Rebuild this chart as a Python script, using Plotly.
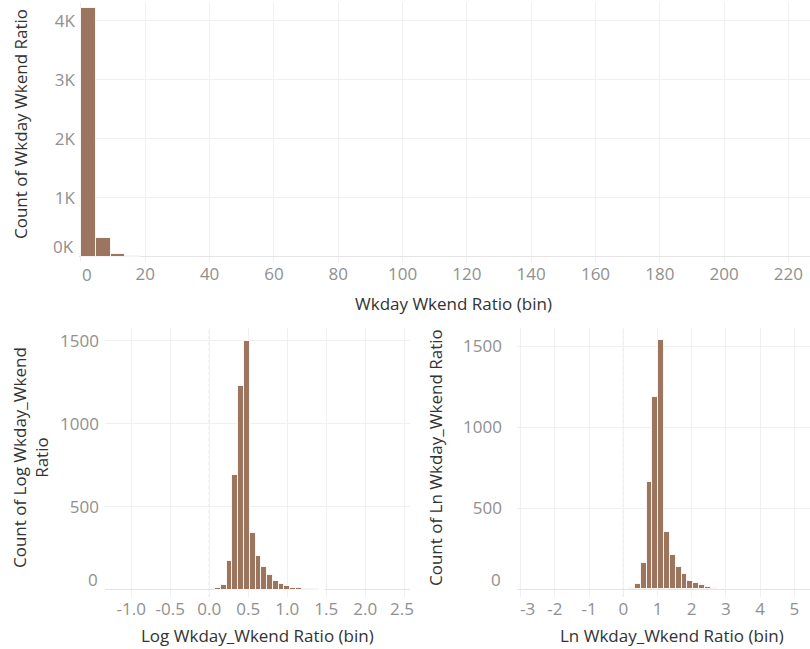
import plotly.graph_objects as go

# ---------------- data ----------------
# Top: Wkday Wkend Ratio histogram (bin size ~4.59)
ratio_bin_size = 4.59
ratio_bin_index = [0, 1, 2, 3]
ratio_counts = [4210, 320, 45, 7]

# Bottom-left: Log Wkday_Wkend Ratio (bin size ~0.0741)
log_bin_size = 0.0741
log_bin_index = list(range(1, 20))
log_counts = [8, 28, 175, 689, 1226, 1500, 342, 205, 139, 89, 52, 32, 24, 12, 8, 4, 3, 2, 1]

# Bottom-right: Ln Wkday_Wkend Ratio (bin size ~0.1706)
ln_bin_size = 0.1706
ln_bin_index = list(range(1, 20))
ln_counts = [8, 31, 165, 665, 1190, 1541, 353, 213, 140, 97, 52, 41, 25, 17, 10, 5, 3, 2, 1]

# tick labels (edge labels are drawn separately, nudged inward like the reference)
top_x_ticks = [0, 20, 40, 60, 80, 100, 120, 140, 160, 180, 200, 220]
top_x_labels = ["", "20", "40", "60", "80", "100", "120", "140", "160", "180", "200", "220"]
top_y_ticks = [0, 1000, 2000, 3000, 4000]
top_y_labels = ["", "1K", "2K", "3K", "4K"]
log_x_ticks = [-1.0, -0.5, 0.0, 0.5, 1.0, 1.5, 2.0, 2.5]
log_x_labels = ["-1.0", "-0.5", "0.0", "0.5", "1.0", "1.5", "2.0", ""]
ln_x_ticks = [-3, -2, -1, 0, 1, 2, 3, 4, 5]
ln_x_labels = ["", "-2", "-1", "0", "1", "2", "3", "4", "5"]
bottom_y_ticks = [0, 500, 1000, 1500]
bottom_y_labels = ["", "500", "1000", "1500"]
# (axis, value, text) for the nudged edge labels
edge_y_labels = [("y", 0, "0K"), ("y2", 0, "0"), ("y3", 0, "0")]
edge_x_labels = [("x", 0, "0"), ("x2", 2.5, "2.5"), ("x3", -3, "-3")]

# ---------------- style ----------------
BAR = "#9c755f"
GRID = "#f0f0f0"
TICK = "#909090"
TITLE = "#333333"
FONT = "Open Sans"
W, H = 810, 649


def centers(idx, size):
    return [(i + 0.5) * size for i in idx]


def px_x(p):
    return p / W


def px_y(p):
    return 1 - p / H


bar_line = dict(color="rgba(255,255,255,0.85)", width=1)

fig = go.Figure()
fig.add_trace(go.Bar(x=centers(ratio_bin_index, ratio_bin_size), y=ratio_counts,
                     width=ratio_bin_size, marker=dict(color=BAR, line=bar_line),
                     xaxis="x", yaxis="y", showlegend=False))
fig.add_trace(go.Bar(x=centers(log_bin_index, log_bin_size), y=log_counts,
                     width=log_bin_size, marker=dict(color=BAR, line=bar_line),
                     xaxis="x2", yaxis="y2", showlegend=False))
fig.add_trace(go.Bar(x=centers(ln_bin_index, ln_bin_size), y=ln_counts,
                     width=ln_bin_size, marker=dict(color=BAR, line=bar_line),
                     xaxis="x3", yaxis="y3", showlegend=False))

tickfont = dict(family=FONT, size=17, color=TICK)
common = dict(showgrid=True, gridcolor=GRID, gridwidth=1, showline=False,
              ticks="", tickfont=tickfont, fixedrange=True)

y_standoff = {"y": 3, "y2": 5, "y3": 14}

fig.update_layout(
    width=W, height=H,
    margin=dict(l=0, r=0, t=0, b=0),
    paper_bgcolor="white", plot_bgcolor="white",
    font=dict(family=FONT, color=TITLE),
    bargap=0,
    xaxis=dict(domain=[px_x(79), 1], anchor="y", range=[-0.62, 226.7],
               tickvals=top_x_ticks, ticktext=top_x_labels, zeroline=False, **common),
    yaxis=dict(domain=[px_y(262), px_y(2)], anchor="x", range=[-90, 4317],
               tickvals=top_y_ticks, ticktext=top_y_labels,
               zeroline=True, zerolinecolor="#e4e4e4", zerolinewidth=1,
               ticklabelstandoff=y_standoff["y"], **common),
    xaxis2=dict(domain=[px_x(105), px_x(410)], anchor="y2", range=[-1.337, 2.573],
                tickvals=log_x_ticks, ticktext=log_x_labels, zeroline=False, **common),
    yaxis2=dict(domain=[px_y(597), px_y(328)], anchor="x2", range=[-44, 1576],
                tickvals=bottom_y_ticks, ticktext=bottom_y_labels, zeroline=True,
                zerolinecolor="#e4e4e4", zerolinewidth=1,
                ticklabelstandoff=y_standoff["y2"], **common),
    xaxis3=dict(domain=[px_x(517), 1], anchor="y3", range=[-3.108, 5.459],
                tickvals=ln_x_ticks, ticktext=ln_x_labels, zeroline=False, **common),
    yaxis3=dict(domain=[px_y(597), px_y(328)], anchor="x3", range=[-47.5, 1613],
                tickvals=bottom_y_ticks, ticktext=bottom_y_labels, zeroline=True,
                zerolinecolor="#e4e4e4", zerolinewidth=1,
                ticklabelstandoff=y_standoff["y3"], **common),
)

# dotted zero reference lines in the bottom charts
for xr, yr in (("x2", "y2"), ("x3", "y3")):
    fig.add_shape(type="line", xref=xr, yref=yr + " domain", x0=0, x1=0, y0=0, y1=1,
                  line=dict(color="#c8c8c8", width=1, dash="dot"), layer="below")

# zero y-labels sit slightly above the baseline (as in the reference)
pair = {"y": "x", "y2": "x2", "y3": "x3"}
for ya, val, txt in edge_y_labels:
    fig.add_annotation(xref=pair[ya] + " domain", yref=ya, x=0, y=val, text=txt,
                       showarrow=False, xanchor="right", yanchor="middle",
                       xshift=-y_standoff[ya], yshift=10, font=tickfont)

# edge x-labels nudged inward so they stay inside the pane
x_nudge = {"x": 6.5, "x2": -2.6, "x3": 6.6}
x_pair = {"x": "y", "x2": "y2", "x3": "y3"}
x_drop = {"x": -12, "x2": -11, "x3": -11}
for xa, val, txt in edge_x_labels:
    fig.add_annotation(xref=xa, yref=x_pair[xa] + " domain", x=val, y=0, text=txt,
                       showarrow=False, xanchor="center", yanchor="middle",
                       xshift=x_nudge[xa], yshift=x_drop[xa], font=tickfont)

title_font = dict(family=FONT, size=17, color=TITLE)
annos = [
    dict(text="Count of Wkday Wkend Ratio", x=px_x(20), y=px_y(124), textangle=-90),
    dict(text="Wkday Wkend Ratio (bin)", x=px_x(453), y=px_y(303), textangle=0),
    dict(text="Count of Log Wkday_Wkend<br>Ratio", x=px_x(30), y=px_y(458), textangle=-90),
    dict(text="Log Wkday_Wkend Ratio (bin)", x=px_x(257), y=px_y(635), textangle=0),
    dict(text="Count of Ln Wkday_Wkend Ratio", x=px_x(435), y=px_y(458), textangle=-90),
    dict(text="Ln Wkday_Wkend Ratio (bin)", x=px_x(672), y=px_y(635), textangle=0),
]
for a in annos:
    fig.add_annotation(xref="paper", yref="paper", showarrow=False,
                       xanchor="center", yanchor="middle", font=title_font, **a)

fig.write_html("out.html",
               config={"displayModeBar": False},
               post_script="document.body.style.margin='0px';"
                           "document.body.style.overflow='hidden';")
